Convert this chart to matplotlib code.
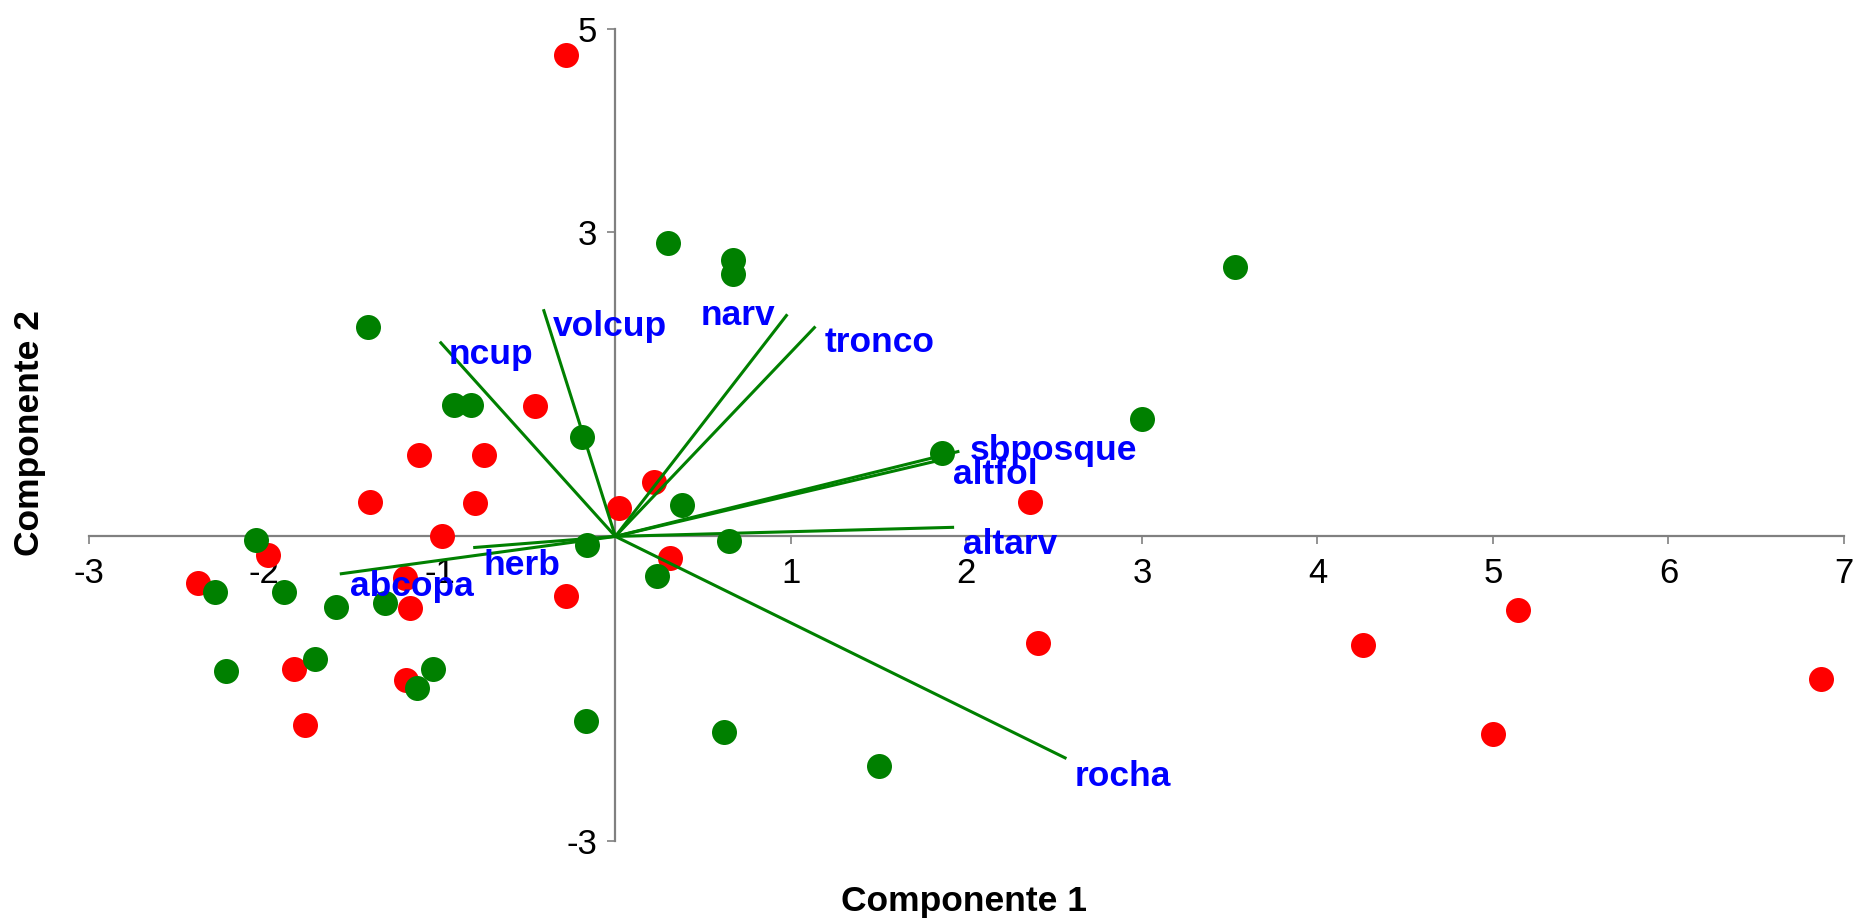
import numpy as np
import matplotlib
matplotlib.use('Agg')
import matplotlib.pyplot as plt

plt.rcParams['font.family'] = ['Liberation Sans', 'DejaVu Sans']
plt.rcParams['axes.unicode_minus'] = False

# scores das amostras - grupo vermelho
red_x = [-0.28, -0.46, -1.12, -0.75, -1.40, -0.80, -0.99, 0.22, 0.02, 0.31,
         -1.98, -2.38, -1.20, -1.17, -0.28, -1.83, -1.19, -1.77,
         2.36, 2.41, 4.26, 5.14, 5.00, 6.87]
red_y = [4.75, 1.29, 0.80, 0.80, 0.34, 0.33, 0.00, 0.54, 0.28, -0.21,
         -0.18, -0.46, -0.41, -0.71, -0.59, -1.31, -1.42, -1.86,
         0.34, -1.05, -1.07, -0.73, -1.95, -1.41]

# scores das amostras - grupo verde
green_x = [0.30, 0.67, 0.67, 3.53, -1.41, -0.92, -0.82, -0.19, 3.00, 1.86,
           0.38, -2.05, 0.65, -0.16, 0.24, -2.28, -1.89, -1.59, -1.31,
           -1.71, -2.22, -1.04, -1.13, -0.17, 0.62, 1.50]
green_y = [2.89, 2.73, 2.59, 2.66, 2.06, 1.30, 1.30, 0.98, 1.16, 0.82,
           0.31, -0.04, -0.05, -0.08, -0.39, -0.55, -0.55, -0.70, -0.66,
           -1.21, -1.33, -1.31, -1.49, -1.82, -1.93, -2.26]

# cargas das variaveis (vetores)
var_names = ['ncup', 'volcup', 'narv', 'tronco', 'sbposque', 'altfol',
             'altarv', 'rocha', 'herb', 'abcopa']
var_x = [-1.00, -0.41, 0.98, 1.14, 1.96, 1.87, 1.93, 2.57, -0.81, -1.57]
var_y = [1.92, 2.24, 2.19, 2.07, 0.84, 0.76, 0.09, -2.19, -0.11, -0.37]

# deslocamento dos rotulos em pixels (dx, dy para baixo) e alinhamento
lab_dx = [9, 9, -12, 9, 10, 9, 9, 8, 10, 10]
lab_dy = [22, 27, 11, 26, 9, 25, 27, 27, 27, 22]
lab_ha = ['left', 'left', 'right', 'left', 'left', 'left', 'left', 'left',
          'left', 'left']

fig = plt.figure(figsize=(18.56, 9.22), dpi=100)
ax = fig.add_axes([0.04784, 0.08818, 0.9457, 0.88004])
ax.set_xlim(-3, 7)
ax.set_ylim(-3, 5)

ax.scatter(red_x, red_y, s=324, c='#ff0000', linewidths=0, zorder=3,
           clip_on=False)

for vx, vy in zip(var_x, var_y):
    ax.plot([0, vx], [0, vy], color='#008000', lw=2.2, zorder=4,
            solid_capstyle='butt')

ax.scatter(green_x, green_y, s=324, c='#008000', linewidths=0, zorder=5,
           clip_on=False)

for name, vx, vy, dx, dy, ha in zip(var_names, var_x, var_y, lab_dx, lab_dy, lab_ha):
    ax.annotate(name, (vx, vy), xytext=(dx, -dy), textcoords='offset pixels',
                ha=ha, va='baseline', color='#0000ff', fontsize=25.5,
                fontweight='bold', zorder=6)

# eixos cruzando na origem
for side in ['top', 'right']:
    ax.spines[side].set_visible(False)
ax.spines['left'].set_position(('data', 0))
ax.spines['bottom'].set_position(('data', 0))
for side in ['left', 'bottom']:
    ax.spines[side].set_color('#808080')
    ax.spines[side].set_linewidth(1.6)
    ax.spines[side].set_zorder(2)

ax.set_xticks([-3, -2, -1, 1, 2, 3, 4, 5, 6, 7])
ax.set_yticks([-3, 3, 5])
ax.tick_params(direction='out', length=6, width=1.2, color='#808080',
               labelsize=25)
ax.tick_params(axis='x', pad=9)
ax.tick_params(axis='y', pad=7)

fig.text(964 / 1856, 1 - 901.7 / 922, 'Componente 1', ha='center', va='center',
         fontsize=25.5, fontweight='bold')
fig.text(30 / 1856, 1 - 432.6 / 922, 'Componente 2', ha='center', va='center',
         rotation=90, fontsize=25.5, fontweight='bold')

fig.savefig('out.png', dpi=100)
